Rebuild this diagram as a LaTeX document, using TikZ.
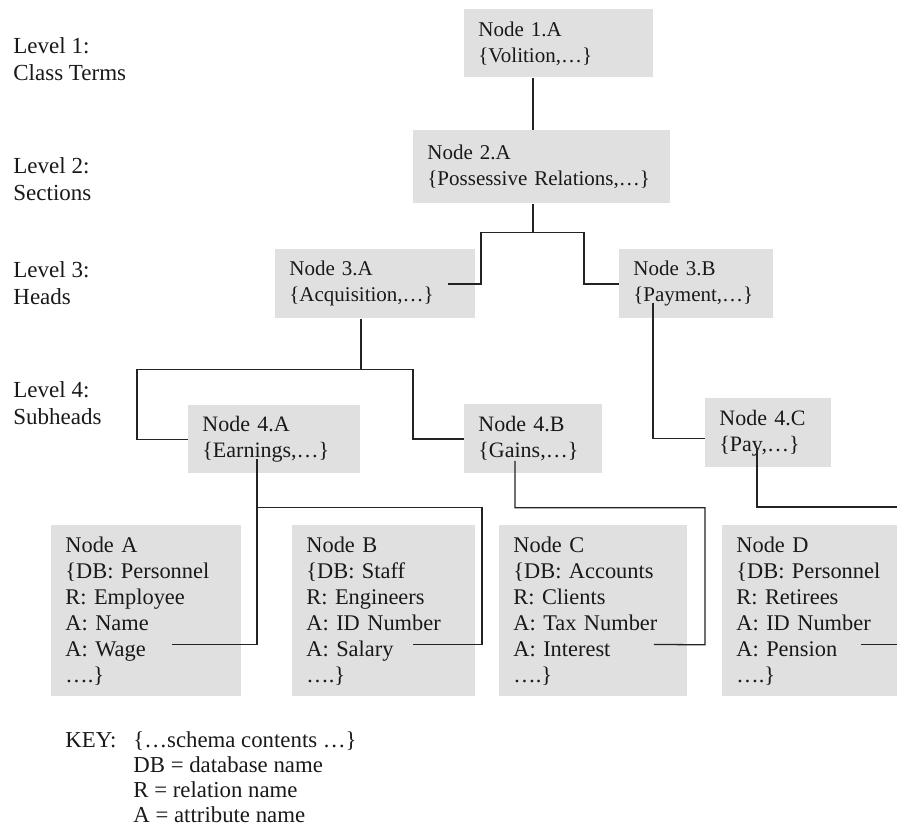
\documentclass[tikz,border=0pt]{standalone}
\usepackage{fontspec}
\setmainfont{Liberation Serif}
\usetikzlibrary{calc}
\definecolor{txedge}{RGB}{35,35,35}
\definecolor{txfill}{RGB}{224,224,224}
\definecolor{txink}{RGB}{25,25,25}
\tikzset{
  gbox/.style={
    fill=txfill, anchor=north west, align=left, text=txink,
    inner xsep=7pt, inner ysep=0pt,
    font=\fontsize{10.5}{13}\selectfont
  },
  sub/.style={gbox, font=\fontsize{11}{13}\selectfont},
  schema/.style={gbox, font=\fontsize{11.2}{13}\selectfont, minimum height=85.5pt},
  lvl/.style={
    anchor=north west, align=left, inner sep=0pt, text=txink,
    font=\fontsize{11.5}{13.5}\selectfont
  },
  keytxt/.style={
    anchor=north west, align=left, inner sep=0pt, text=txink,
    font=\fontsize{11.4}{12.5}\selectfont
  },
  conn/.style={draw=txedge, line width=0.65pt}
}

\begin{document}
\begin{tikzpicture}[x=0.5pt, y=-0.5pt]
  \useasboundingbox (0,0) rectangle (897,826);

  % level labels
  \node[lvl] (lv1) at (13,37.5) {Level 1:\\Class Terms};
  \node[lvl] (lv2) at (13,157.5) {Level 2:\\Sections};
  \node[lvl] (lv3) at (13,261.5) {Level 3:\\Heads};
  \node[lvl] (lv4) at (13,381.5) {Level 4:\\Subheads};

  % class term, section, heads
  \node[gbox, text width=80.5pt, minimum height=34pt] (n1a) at (464,9) {Node 1.A\\\{Volition,…\}};
  \node[gbox, text width=114.5pt, minimum height=36.5pt] (n2a) at (413,130) {Node 2.A\\\{Possessive Relations,…\}};
  \node[gbox, text width=86pt, minimum height=34.5pt] (n3a) at (275,249) {Node 3.A\\\{Acquisition,…\}};
  \node[gbox, text width=63pt, minimum height=34.5pt] (n3b) at (619,249) {Node 3.B\\\{Payment,…\}};

  % subheads
  \node[sub, text width=72pt, minimum height=34pt] (n4a) at (188,405) {Node 4.A\\\{Earnings,…\}};
  \node[sub, text width=55pt, minimum height=34.5pt] (n4b) at (464,404) {Node 4.B\\\{Gains,…\}};
  \node[sub, text width=49pt, minimum height=34.5pt] (n4c) at (705,398) {Node 4.C\\\{Pay,…\}};

  % schema boxes
  \node[schema, text width=81pt] (nA) at (51,525)
    {Node A\\\{DB: Personnel\\R: Employee\\A: Name\\A: Wage\\….\}};
  \node[schema, text width=77.5pt] (nB) at (292,525)
    {Node B\\\{DB: Staff\\R: Engineers\\A: ID Number\\A: Salary\\….\}};
  \node[schema, text width=80pt] (nC) at (499,525)
    {Node C\\\{DB: Accounts\\R: Clients\\A: Tax Number\\A: Interest\\….\}};
  \node[schema, text width=73.5pt] (nD) at (722,525)
    {Node D\\\{DB: Personnel\\R: Retirees\\A: ID Number\\A: Pension\\….\}};

  % key
  \node[keytxt, anchor=base west] (keyh) at (65,747) {KEY:};
  \node[keytxt] (keyb) at (133,731)
    {\{…schema contents …\}\\DB = database name\\R = relation name\\A = attribute name};

  % branch points and the free end at the right edge
  \coordinate (br2) at ($(n2a.south west)+(120,29)$);
  \coordinate (br3) at ($(n3a.south west)+(86,51)$);
  \coordinate (br4) at ($(n4a.south west)+(69,34)$);
  \coordinate (offc) at (897,507);

  \draw[conn] ($(n1a.south west)+(69,0)$) -- ($(n2a.north west)+(120,0)$);
  \draw[conn] ($(n2a.south west)+(120,0)$) -- (br2);
  \draw[conn] (br2) -- ++(-52,0) |- ($(n3a.east)+(-28,0)$);
  \draw[conn] (br2) -- ++(51,0) |- (n3b.west);
  \draw[conn] ($(n3a.south west)+(86,0)$) -- (br3);
  \draw[conn] (br3) -- ++(-224,0) |- (n4a.west);
  \draw[conn] (br3) -- ++(52,0) |- (n4b.west);
  \draw[conn] ($(n3b.south west)+(34,-16)$) |- ($(n4c.west)+(0,5.5)$);
  \draw[conn] ($(n4a.south west)+(69,-15)$) |- ($(nA.east)+(-70,33.5)$);
  \draw[conn] (br4) -- ++(225,0) |- ($(nB.east)+(-63,33.5)$);
  \draw[conn] ($(n4b.south west)+(51,-13)$) -- ++(0,47) -| ++(190,137) -- ($(nC.east)+(-34,33.5)$);
  \draw[conn] ($(n4c.south west)+(52,-20)$) |- (offc);
  \draw[conn] ($(nD.east)+(-37,33.5)$) -- ++(37,0);
\end{tikzpicture}
\end{document}
